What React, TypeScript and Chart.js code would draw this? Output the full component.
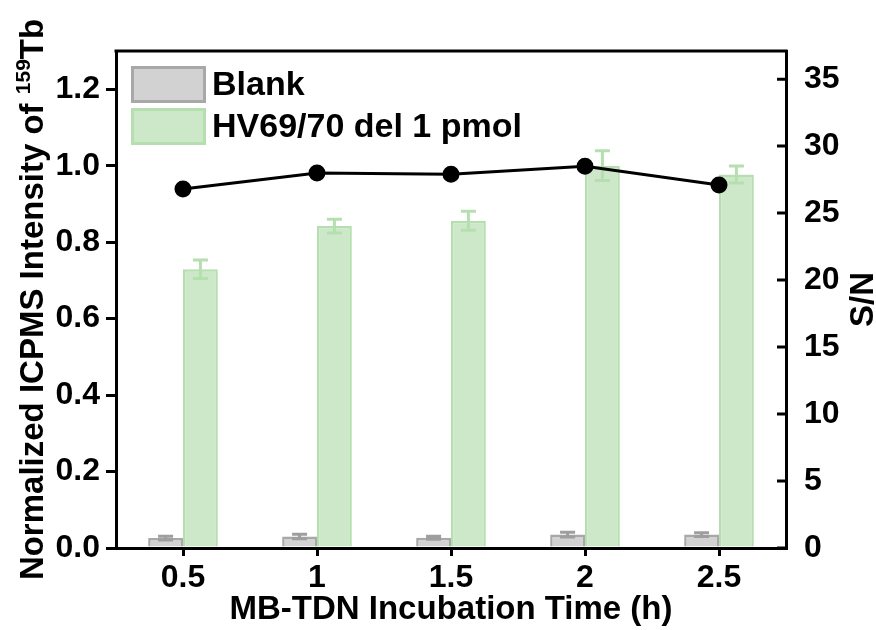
import React, { useEffect, useRef } from 'react';
import { Chart, registerables } from 'chart.js';

Chart.register(...registerables);

// ---- data ----
const categories = ['0.5', '1', '1.5', '2', '2.5'];
const blankValues = [0.026, 0.030, 0.027, 0.035, 0.035];
const blankErrors = [0.005, 0.006, 0.004, 0.006, 0.005];
const hvValues = [0.729, 0.842, 0.856, 1.0, 0.977];
const hvErrors = [0.024, 0.018, 0.025, 0.039, 0.022];
const snValues = [26.8, 28.0, 27.9, 28.5, 27.1];
const seriesLabels = ['Blank', 'HV69/70 del 1 pmol', 'S/N'];
const leftRange = [0, 1.3];
const rightRange = [0, 37.1];
const leftStep = 0.2;
const rightStep = 5;
const xTitle = 'MB-TDN Incubation Time (h)';
const yTitleMain = 'Normalized ICPMS Intensity of ';
const yTitleSup = '159';
const yTitleEnd = 'Tb';
const y2Title = 'S/N';

const FONT = "'Liberation Sans', Arial, Helvetica, sans-serif";
const GRAY_FILL = '#d2d2d2';
const GRAY_BORDER = '#a8a8a8';
const GREEN_FILL = '#cde8c9';
const GREEN_BORDER = '#b6dfb0';

export default function App() {
  const ref = useRef<HTMLCanvasElement>(null);

  useEffect(() => {
    const canvas = ref.current!;

    const errorBars = {
      id: 'errorBars',
      afterDatasetDraw(chart: any, args: any) {
        const ds = chart.data.datasets[args.index];
        if (!ds.errors) return;
        const meta = args.meta;
        const ys = chart.scales[meta.yAxisID || 'y'];
        const ctx = chart.ctx;
        ctx.save();
        ctx.strokeStyle = ds.errorColor;
        ctx.lineWidth = 3;
        meta.data.forEach((el: any, i: number) => {
          const v = ds.data[i];
          const e = ds.errors[i];
          const x = el.x;
          const yt = ys.getPixelForValue(v + e);
          const yb = ys.getPixelForValue(v - e);
          const hw = 7.5;
          ctx.beginPath();
          ctx.moveTo(x, yt);
          ctx.lineTo(x, yb);
          ctx.moveTo(x - hw, yt);
          ctx.lineTo(x + hw, yt);
          ctx.moveTo(x - hw, yb);
          ctx.lineTo(x + hw, yb);
          ctx.stroke();
        });
        ctx.restore();
      },
    };

    const decor = {
      id: 'decor',
      afterDraw(chart: any) {
        const ctx = chart.ctx;
        const a = chart.chartArea;
        ctx.save();
        // top frame line
        ctx.strokeStyle = '#000';
        ctx.lineWidth = 3;
        ctx.beginPath();
        ctx.moveTo(a.left - 1.5, a.top);
        ctx.lineTo(a.right + 1.5, a.top);
        ctx.stroke();
        // inward ticks on right axis
        const y2 = chart.scales.y2;
        ctx.beginPath();
        y2.ticks.forEach((t: any) => {
          const y = y2.getPixelForValue(t.value);
          ctx.moveTo(a.right, y);
          ctx.lineTo(a.right - 9, y);
        });
        ctx.stroke();

        // left title with superscript
        ctx.fillStyle = '#000';
        ctx.textBaseline = 'alphabetic';
        ctx.textAlign = 'left';
        const mainFont = `bold 33px ${FONT}`;
        const supFont = `bold 21px ${FONT}`;
        ctx.font = mainFont;
        const wMain = ctx.measureText(yTitleMain).width;
        const wEnd = ctx.measureText(yTitleEnd).width;
        ctx.font = supFont;
        const wSup = ctx.measureText(yTitleSup).width;
        const total = wMain + wSup + wEnd;
        const cy = (a.top + a.bottom) / 2;
        ctx.save();
        ctx.translate(43, cy);
        ctx.rotate(-Math.PI / 2);
        const sx = -total / 2;
        ctx.font = mainFont;
        ctx.fillText(yTitleMain, sx, 0);
        ctx.font = supFont;
        ctx.fillText(yTitleSup, sx + wMain, -13);
        ctx.font = mainFont;
        ctx.fillText(yTitleEnd, sx + wMain + wSup, 0);
        ctx.restore();

        // right title
        ctx.save();
        ctx.translate(873, cy);
        ctx.rotate(-Math.PI / 2);
        ctx.font = mainFont;
        ctx.textAlign = 'center';
        ctx.fillText(y2Title, 0, 0);
        ctx.restore();

        // legend
        const items = [
          { label: seriesLabels[0], fill: GRAY_FILL, border: GRAY_BORDER },
          { label: seriesLabels[1], fill: GREEN_FILL, border: GREEN_BORDER },
        ];
        const lx = a.left + 15;
        let ly = a.top + 15;
        items.forEach((it) => {
          ctx.fillStyle = it.fill;
          ctx.fillRect(lx, ly, 75, 37);
          ctx.strokeStyle = it.border;
          ctx.lineWidth = 3;
          ctx.strokeRect(lx + 1.5, ly + 1.5, 72, 34);
          ctx.fillStyle = '#000';
          ctx.font = `bold 34px ${FONT}`;
          ctx.textAlign = 'left';
          ctx.textBaseline = 'middle';
          ctx.fillText(it.label, lx + 81, ly + 20);
          ly += 42;
        });
        ctx.restore();
      },
    };

    const tickFont = { family: FONT, size: 32, weight: 'bold' as const };

    const chart = new Chart(canvas, {
      type: 'bar',
      data: {
        labels: categories,
        datasets: [
          {
            type: 'line',
            label: seriesLabels[2],
            data: snValues,
            yAxisID: 'y2',
            borderColor: '#000',
            backgroundColor: '#000',
            borderWidth: 3,
            pointRadius: 7,
            pointBackgroundColor: '#000',
            pointBorderColor: '#000',
            order: 0,
          } as any,
          {
            type: 'bar',
            label: seriesLabels[0],
            data: blankValues,
            errors: blankErrors,
            errorColor: '#9e9e9e',
            yAxisID: 'y',
            backgroundColor: GRAY_FILL,
            borderColor: GRAY_BORDER,
            borderWidth: 2.5,
            categoryPercentage: 0.52,
            barPercentage: 1.0,
            order: 1,
          } as any,
          {
            type: 'bar',
            label: seriesLabels[1],
            data: hvValues,
            errors: hvErrors,
            errorColor: GREEN_BORDER,
            yAxisID: 'y',
            backgroundColor: GREEN_FILL,
            borderColor: GREEN_BORDER,
            borderWidth: 2.5,
            categoryPercentage: 0.52,
            barPercentage: 1.0,
            order: 2,
          } as any,
        ],
      },
      options: {
        responsive: false,
        animation: false,
        layout: { padding: { top: 51, left: 0, right: 0, bottom: 0 } },
        plugins: {
          legend: { display: false },
          tooltip: { enabled: false },
          title: { display: false },
        },
        scales: {
          x: {
            type: 'category',
            offset: true,
            grid: {
              display: true,
              offset: false,
              drawOnChartArea: false,
              drawTicks: true,
              tickLength: 8,
              lineWidth: 3,
              color: '#000',
            },
            border: { display: true, width: 3, color: '#000' },
            ticks: { color: '#000', font: tickFont, padding: 3, maxRotation: 0 },
            title: {
              display: true,
              text: xTitle,
              color: '#000',
              font: { family: FONT, size: 33, weight: 'bold' },
              padding: { top: 0, bottom: 0 },
            },
            afterFit: (s: any) => {
              s.height = 82;
            },
          },
          y: {
            type: 'linear',
            position: 'left',
            min: leftRange[0],
            max: leftRange[1],
            grid: {
              display: true,
              drawOnChartArea: false,
              drawTicks: true,
              tickLength: 10,
              lineWidth: 3,
              color: '#000',
            },
            border: { display: true, width: 3, color: '#000' },
            ticks: {
              stepSize: leftStep,
              includeBounds: false,
              color: '#000',
              font: tickFont,
              padding: 6,
              callback: (v: any) => Number(v).toFixed(1),
            },
            afterBuildTicks: (s: any) => {
              s.ticks = s.ticks.filter((t: any) => Math.abs(t.value / leftStep - Math.round(t.value / leftStep)) < 1e-6);
            },
            afterFit: (s: any) => {
              s.width = 116;
            },
          },
          y2: {
            type: 'linear',
            position: 'right',
            min: rightRange[0],
            max: rightRange[1],
            grid: {
              display: true,
              drawOnChartArea: false,
              drawTicks: false,
              color: '#000',
            },
            border: { display: true, width: 3, color: '#000' },
            ticks: {
              stepSize: rightStep,
              includeBounds: false,
              color: '#000',
              font: tickFont,
              padding: 18,
              callback: (v: any) => String(v),
            },
            afterBuildTicks: (s: any) => {
              s.ticks = s.ticks.filter((t: any) => Math.abs(t.value / rightStep - Math.round(t.value / rightStep)) < 1e-6);
            },
            afterFit: (s: any) => {
              s.width = 90;
            },
          },
        },
      } as any,
      plugins: [errorBars, decor],
    });

    return () => chart.destroy();
  }, []);

  return (
    <div style={{ position: 'absolute', left: 0, top: 0, width: 876, height: 630, background: '#fff' }}>
      <canvas ref={ref} width={876} height={630} style={{ display: 'block', width: 876, height: 630 }} />
    </div>
  );
}
